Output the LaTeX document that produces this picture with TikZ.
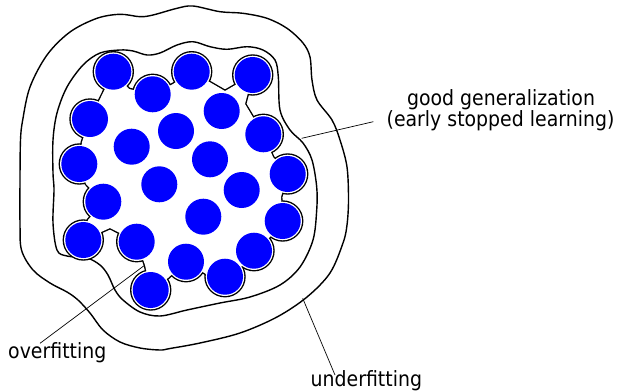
\documentclass[tikz,border=0pt]{standalone}
\usepackage{fontspec}
\setmainfont{DejaVu Sans}[FakeStretch=0.9]
\begin{document}
\begin{tikzpicture}[x=1pt,y=-1pt,
  curve/.style={line width=1.4pt, line join=round},
  leader/.style={line width=0.7pt},
  blob/.style={circle, fill=blue, minimum size=36pt, inner sep=0pt},
  lbl/.style={inner sep=0pt, font=\fontsize{21}{20}\selectfont}]
\useasboundingbox (0,0) rectangle (621,391);
% circle centres
\coordinate (p1) at (113.3,71.7);
\coordinate (p2) at (191.7,71.7);
\coordinate (p3) at (252.7,75);
\coordinate (p4) at (152.7,94.3);
\coordinate (p5) at (221.7,111);
\coordinate (p6) at (90,119);
\coordinate (p7) at (176,131);
\coordinate (p8) at (263.3,134.3);
\coordinate (p9) at (131.7,146.7);
\coordinate (p10) at (79.3,164);
\coordinate (p11) at (210,159.3);
\coordinate (p12) at (287.7,174);
\coordinate (p13) at (159.3,184.3);
\coordinate (p14) at (241.7,190);
\coordinate (p15) at (103.3,201.7);
\coordinate (p16) at (203.3,216.7);
\coordinate (p17) at (282.7,221);
\coordinate (p18) at (83.3,240);
\coordinate (p19) at (136.7,241.7);
\coordinate (p20) at (254,250.7);
\coordinate (p21) at (186,261.7);
\coordinate (p22) at (225,276.7);
\coordinate (p23) at (150.7,290);
% notches of the overfitting boundary
\coordinate (n1) at (129,89);
\coordinate (n2) at (173,84);
\coordinate (n3) at (225,91);
\coordinate (n4) at (245,104);
\coordinate (n5) at (273,157);
\coordinate (n6) at (281,197);
\coordinate (n7) at (270,237);
\coordinate (n8) at (242,266);
\coordinate (n9) at (206,274);
\coordinate (n10) at (168,278);
\coordinate (n11) at (145,265);
\coordinate (n12) at (110,228);
\coordinate (n13) at (88,220);
\coordinate (n14) at (86,184);
\coordinate (n15) at (82,142);
\coordinate (n16) at (101,97);
% underfitting boundary
\draw[curve] plot[smooth cycle, tension=0.55] coordinates {
 (193,6) (220,11.7) (243,13.3) (267,18.3) (287,28.3) (303,43) (310,57) (312,80)
 (317,100) (332,120) (340,140) (347,167) (348.5,200) (347,225) (343,243) (330,273)
 (307,297) (277,317) (240,333) (200,343) (170,348.5) (160,350) (140,348) (120,342)
 (103,330) (90,313) (78,300) (67,292) (50,283) (33,270) (21.5,250) (20,223) (20,180)
 (20.5,140) (22.7,120) (30,87) (47,55) (70,32) (97,18.3) (120,14.3) (140,16.7)
 (153,15) (177,8.3)};
% good generalization boundary
\draw[curve] plot[smooth cycle, tension=0.55] coordinates {
 (193,41.7) (210,46.7) (227,49.3) (247,46.7) (263,50) (275,60) (278.3,76.7) (280,110)
 (290,130) (303,143) (312,160) (316.7,187) (316.7,210) (313,240) (300,267) (280,285)
 (250,297) (220,303) (187,310) (160,316) (140,312) (123,300) (115,290) (108,275)
 (100,265) (87,258) (67,256) (57,250) (53,223) (54,190) (53,173) (53,140) (57,113)
 (67,87) (83,65) (100,53) (120,50) (133,51) (147,55) (160,53) (177,45)};
% overfitting boundary: outline of the union of circles and polygon
\def\outerset{p1,p4,p2,p3,p8,p12,p17,p20,p22,p21,p23,p19,p18,p15,p10,p6}
\foreach \c in \outerset { \fill[black] (\c) circle (20.7pt); }
\draw[black, line width=2.8pt, line join=round, fill=black]
 (p1) -- (n1) -- (p4) -- (n2) -- (p2) -- (n3) -- (p3) -- (n4) -- (p8) -- (n5)
 -- (p12) -- (n6) -- (p17) -- (n7) -- (p20) -- (n8) -- (p22) -- (n9) -- (p21)
 -- (n10) -- (p23) -- (n11) -- (p19) -- (n12) -- (p18) -- (n13) -- (p15)
 -- (n14) -- (p10) -- (n15) -- (p6) -- (n16) -- cycle;
\foreach \c in \outerset { \fill[white] (\c) circle (19.3pt); }
\fill[white]
 (p1) -- (n1) -- (p4) -- (n2) -- (p2) -- (n3) -- (p3) -- (n4) -- (p8) -- (n5)
 -- (p12) -- (n6) -- (p17) -- (n7) -- (p20) -- (n8) -- (p22) -- (n9) -- (p21)
 -- (n10) -- (p23) -- (n11) -- (p19) -- (n12) -- (p18) -- (n13) -- (p15)
 -- (n14) -- (p10) -- (n15) -- (p6) -- (n16) -- cycle;
% data points
\foreach \i in {1,...,23} { \node[blob] (c\i) at (p\i) {}; }
% labels
\node[lbl, anchor=base] (goodA) at (501,105.5) {good generalization};
\node[lbl, anchor=base] (goodB) at (500.5,126.5) {(early stopped learning)};
\node[lbl, anchor=base west] (over) at (8,358) {overfitting};
\node[lbl, anchor=base west] (under) at (310.5,386.5) {underfitting};
% leaders
\coordinate (gS) at (301.7,138.3);
\coordinate (gE) at (373.3,121.7);
\coordinate (uS) at (302.7,298.3);
\coordinate (uE) at (335,375);
\coordinate (oE) at (40,343.3);
\draw[leader] (gS) -- (gE);
\draw[leader] (uS) -- (uE);
\draw[leader] (oE) -- (n11);
\end{tikzpicture}
\end{document}
